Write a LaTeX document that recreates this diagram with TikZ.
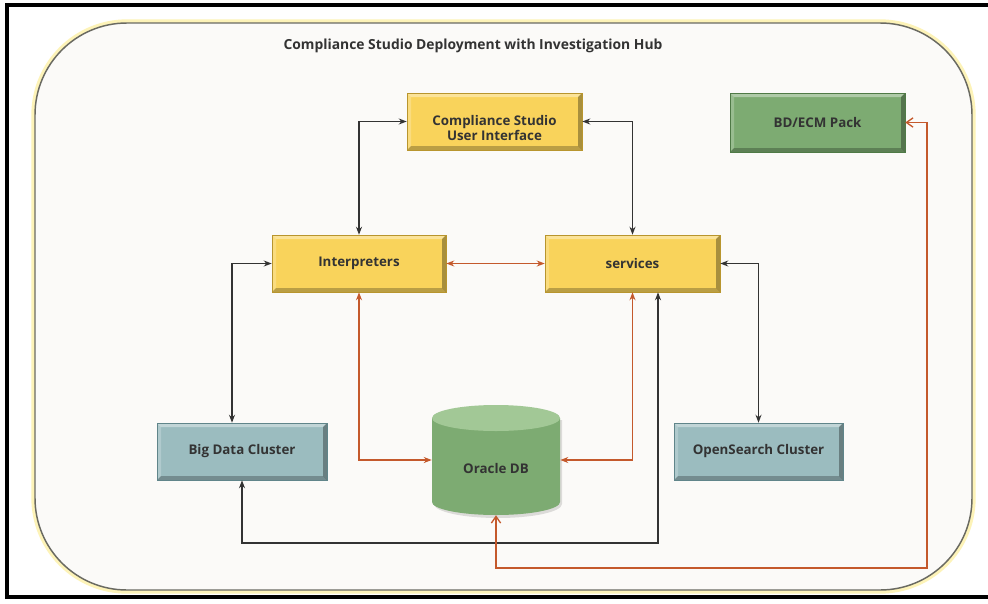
\documentclass[tikz,border=0pt]{standalone}
\usepackage{fontspec}
\setmainfont{Open Sans}
\usetikzlibrary{arrows.meta,shadows}
\definecolor{bgc}{HTML}{FBFAF8}
\definecolor{glow}{HTML}{FDF3B8}
\definecolor{rim}{HTML}{6A6A62}
\definecolor{ybody}{HTML}{F9D35B}
\definecolor{yedge}{HTML}{B8952E}
\definecolor{gbody}{HTML}{7DAB72}
\definecolor{gedge}{HTML}{4F7A46}
\definecolor{gtop}{HTML}{A2C896}
\definecolor{tbody}{HTML}{9BBCBF}
\definecolor{tedge}{HTML}{60858A}
\definecolor{txt}{HTML}{333333}
\definecolor{lnk}{HTML}{333333}
\definecolor{org}{HTML}{C4592C}
\tikzset{
  bevel/.style={path picture={
    \fill[white,opacity=.38] (path picture bounding box.north west) -- (path picture bounding box.north east)
      -- ([xshift=-3pt,yshift=-3pt]path picture bounding box.north east) -- ([xshift=3pt,yshift=-3pt]path picture bounding box.north west) -- cycle;
    \fill[white,opacity=.22] (path picture bounding box.north west) -- (path picture bounding box.south west)
      -- ([xshift=3pt,yshift=3pt]path picture bounding box.south west) -- ([xshift=3pt,yshift=-3pt]path picture bounding box.north west) -- cycle;
    \fill[black,opacity=.25] (path picture bounding box.south west) -- (path picture bounding box.south east)
      -- ([xshift=-3pt,yshift=3pt]path picture bounding box.south east) -- ([xshift=3pt,yshift=3pt]path picture bounding box.south west) -- cycle;
    \fill[black,opacity=.32] (path picture bounding box.north east) -- (path picture bounding box.south east)
      -- ([xshift=-3pt,yshift=3pt]path picture bounding box.south east) -- ([xshift=-3pt,yshift=-3pt]path picture bounding box.north east) -- cycle;
  }},
  boxbase/.style={rectangle, bevel, inner sep=0pt, align=center, text=txt,
    font=\bfseries\fontsize{10}{10.8}\selectfont,
    drop shadow={shadow xshift=1pt, shadow yshift=-1pt, opacity=.18, fill=black}},
  ybox/.style={boxbase, fill=ybody, draw=yedge, line width=.4pt},
  gbox/.style={boxbase, fill=gbody, draw=gedge, line width=.4pt},
  tbox/.style={boxbase, fill=tbody, draw=tedge, line width=.4pt},
  blk/.style={draw=lnk, line width=1pt, {Stealth[length=6pt,width=4.5pt]}-{Stealth[length=6pt,width=4.5pt]}},
  orn/.style={draw=org, line width=1pt, {Stealth[length=6pt,width=4.5pt]}-{Stealth[length=6pt,width=4.5pt]}},
  ornb/.style={draw=org, line width=1pt, {Straight Barb[length=5pt,width=7pt]}-{Straight Barb[length=5pt,width=7pt]}},
}
\begin{document}
\begin{tikzpicture}[x=0.75pt,y=-0.75pt]
\useasboundingbox (0,0) rectangle (988,603);
\fill[white] (0,0) rectangle (988,603);
% outer frame lines
\draw[black, line width=3pt] (7,599) -- (7,5) -- (988,5);
\draw[black, line width=3pt] (7,597) -- (988,597);
% rounded container
\draw[glow, line width=5.5pt, rounded corners=69pt] (35,23) rectangle (972,590);
\fill[bgc, rounded corners=69pt] (35,23) rectangle (972,590);
\draw[rim, line width=1.1pt, rounded corners=69pt] (35,23) rectangle (972,590);
% title
\node[text=txt, font=\bfseries\fontsize{10.4}{12}\selectfont] (title) at (473,46) {Compliance Studio Deployment with Investigation Hub};
% boxes
\node[ybox, minimum width=131.25pt, minimum height=42.75pt,
  label={[yshift=-5pt, align=center, text=txt, font=\bfseries\fontsize{10}{10.8}\selectfont]center:{Compliance Studio\\User Interface}}]
  (ui) at (494.5,121.5) {};
\node[ybox, minimum width=130.5pt, minimum height=42.75pt] (interp) at (359,263.5) {Interpreters};
\node[ybox, minimum width=131.25pt, minimum height=42.75pt] (serv) at (632.5,263.5) {services};
\node[gbox, minimum width=131.25pt, minimum height=44.25pt] (bdecm) at (817.5,122.5) {BD/ECM Pack};
\node[tbox, minimum width=127.5pt, minimum height=42.75pt] (bdc) at (242,451.5) {Big Data Cluster};
\node[tbox, minimum width=126.75pt, minimum height=42.75pt] (os) at (758.5,451.5) {OpenSearch Cluster};
% Oracle DB cylinder
\node[minimum width=96pt, minimum height=82.5pt, inner sep=0pt] (db) at (496,460) {};
\fill[black, opacity=.12] (434,420) -- (434,504) arc[start angle=180, end angle=360, x radius=48pt, y radius=10.5pt] -- (562,420) -- cycle;
\fill[gbody] (432,418) -- (432,502) arc[start angle=180, end angle=360, x radius=48pt, y radius=9.75pt] -- (560,418) -- cycle;
\fill[gtop] (496,418) ellipse[x radius=48pt, y radius=9.75pt];
\node[text=txt, font=\bfseries\fontsize{10}{11}\selectfont] (dbl) at (496,468) {Oracle DB};
% helper coordinates
\coordinate (c1) at (927,568);
\coordinate (c2) at (658,543);
% connectors
\draw[blk] (interp.north) |- (ui.west);
\draw[blk] (serv.north) |- (ui.east);
\draw[orn] (interp.east) -- (serv.west);
\draw[blk] ([xshift=-7.5pt]bdc.north) |- (interp.west);
\draw[blk] (os.north) |- (serv.east);
\draw[orn] (interp.south) |- (db.west);
\draw[orn] (serv.south) |- (db.east);
\draw[blk] (bdc.south) |- (c2) -- (c2 |- serv.south);
\draw[ornb] (db.south) |- (c1) |- (bdecm.east);
\end{tikzpicture}
\end{document}
